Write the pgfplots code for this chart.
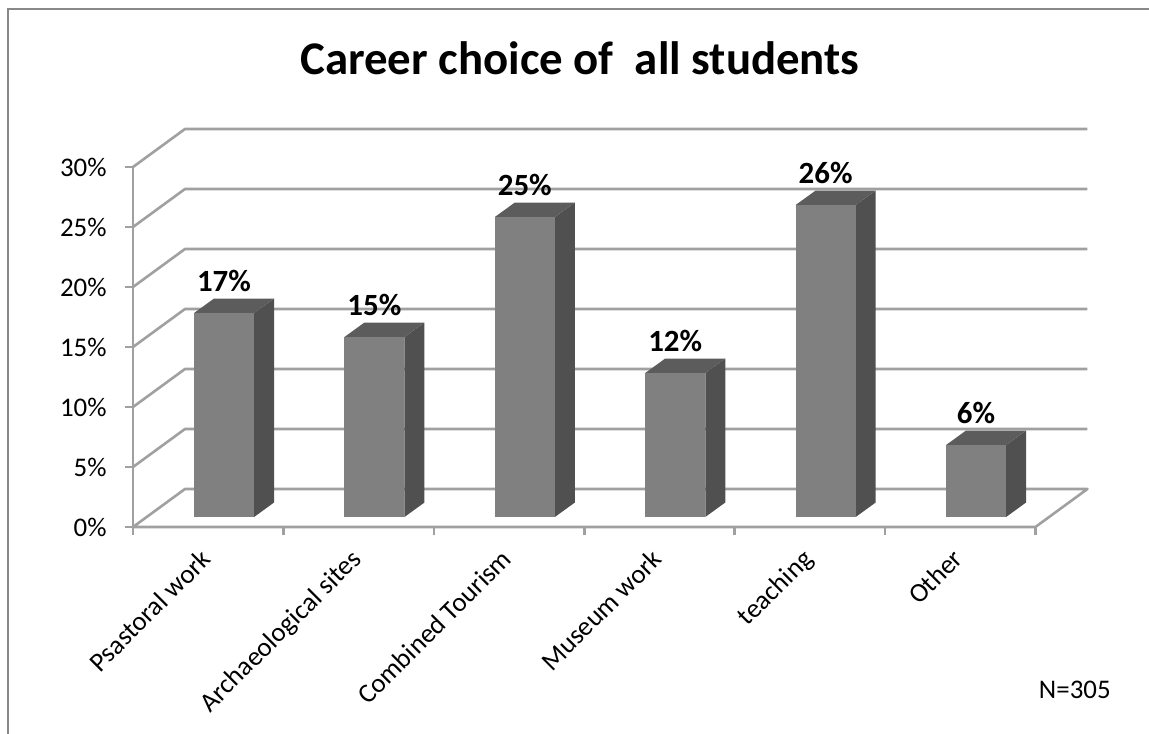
\documentclass[border=0pt]{standalone}
\usepackage{fontspec}
\setmainfont{Carlito}
\usepackage{pgfplots}
\pgfplotsset{compat=1.18}
\usepackage{pgfplotstable}
\definecolor{gridc}{RGB}{160,160,160}
\definecolor{framec}{RGB}{136,136,136}
\definecolor{barfront}{RGB}{128,128,128}
\definecolor{bartop}{RGB}{92,92,92}
\definecolor{barside}{RGB}{80,80,80}

\pgfplotstableread{
x v
0 17
1 15
2 25
3 12
4 26
5 6
}\careerdata

\newcommand\tdbar[2]{%
  \pgfmathsetmacro\xl{#1-0.094}%
  \pgfmathsetmacro\xr{#1+0.305}%
  \pgfmathsetmacro\xlb{#1-0.094+0.133}%
  \pgfmathsetmacro\xrb{#1+0.305+0.133}%
  \pgfmathsetmacro\yb{0.833}%
  \pgfmathsetmacro\ybb{0.833+1.208}%
  \pgfmathsetmacro\yt{0.833+#2}%
  \pgfmathsetmacro\ytb{0.833+#2+1.208}%
  \addplot[fill=barside, draw=none] coordinates {(\xr,\yb) (\xrb,\ybb) (\xrb,\ytb) (\xr,\yt)} -- cycle;
  \addplot[fill=bartop, draw=none] coordinates {(\xl,\yt) (\xr,\yt) (\xrb,\ytb) (\xlb,\ytb)} -- cycle;
  \addplot[fill=barfront, draw=none] coordinates {(\xl,\yb) (\xr,\yb) (\xr,\yt) (\xl,\yt)} -- cycle;
}

\begin{document}
\begin{tikzpicture}[font=\fontsize{13.5}{16}\selectfont]
\begin{axis}[
  x=75.2bp, y=6bp,
  xmin=-0.5, xmax=5.8457, ymin=0, ymax=33.167,
  clip=false,
  axis x line*=bottom, axis y line*=left,
  axis line style={draw=none},
  tick align=outside,
  major tick length=4bp,
  tick style={gridc, line width=1.3bp},
  /pgf/number format/assume math mode=true,
  ytick={0,5,...,30},
  yticklabel={\pgfmathprintnumber{\tick}\%},
  yticklabel style={anchor=east, inner sep=0pt, xshift=-9bp},
  xtick={-0.5,0.5,...,5.5},
  xticklabel={\hbox{}},
  extra x ticks={0,1,2,3,4,5},
  extra x tick labels={Psastoral work, Archaeological sites, Combined Tourism, Museum work, teaching, Other},
  extra x tick style={tick style={draw=none}, xticklabel style={xshift=-4.5bp, yshift=-6bp, rotate=45, anchor=north east, inner sep=0pt}},
]
\coordinate (O) at (axis cs:-0.5,0);
% walls and gridlines
\addplot[gridc, line width=1.3bp, line join=round] coordinates {(5.5,0) (-0.5,0) (-0.1543,3.167) (5.8457,3.167) (5.5,0)};
\addplot[gridc, line width=1.3bp, line join=round] coordinates {(-0.5,5) (-0.1543,8.167) (5.8457,8.167)};
\addplot[gridc, line width=1.3bp, line join=round] coordinates {(-0.5,10) (-0.1543,13.167) (5.8457,13.167)};
\addplot[gridc, line width=1.3bp, line join=round] coordinates {(-0.5,15) (-0.1543,18.167) (5.8457,18.167)};
\addplot[gridc, line width=1.3bp, line join=round] coordinates {(-0.5,20) (-0.1543,23.167) (5.8457,23.167)};
\addplot[gridc, line width=1.3bp, line join=round] coordinates {(-0.5,25) (-0.1543,28.167) (5.8457,28.167)};
\addplot[gridc, line width=1.3bp, line join=round] coordinates {(-0.5,30) (-0.1543,33.167) (5.8457,33.167)};
\addplot[gridc, line width=1.3bp] coordinates {(-0.5,0) (-0.5,30)};
% bars
\tdbar{0}{17}
\tdbar{1}{15}
\tdbar{2}{25}
\tdbar{3}{12}
\tdbar{4}{26}
\tdbar{5}{6}
% data labels
\addplot[draw=none, point meta=explicit,
  nodes near coords={\pgfmathprintnumber{\pgfplotspointmeta}\%},
  every node near coord/.append style={font=\bfseries\fontsize{15.5}{18}\selectfont, anchor=base, inner sep=0pt, text=black}]
  table[x expr=\thisrow{x}+0.105, y expr=\thisrow{v}+2.6, meta=v] {\careerdata};
\node[anchor=base, font=\bfseries\fontsize{23.5}{28}\selectfont] at (axis cs:2.472,37.67) {Career choice of\ \ all students};
\node[anchor=base west] at (axis cs:5.477,-14.25) {N=305};
\end{axis}
\pgfresetboundingbox
\path[use as bounding box] ([shift={(-66.5bp,-103.5bp)}]O) rectangle ([shift={(508bp,263.5bp)}]O);
\draw[framec, line width=1.2bp] ([shift={(-62.5bp,-103.5bp)}]O) -- ([shift={(-62.5bp,259bp)}]O) -- ([shift={(508bp,259bp)}]O);
\end{tikzpicture}
\end{document}
